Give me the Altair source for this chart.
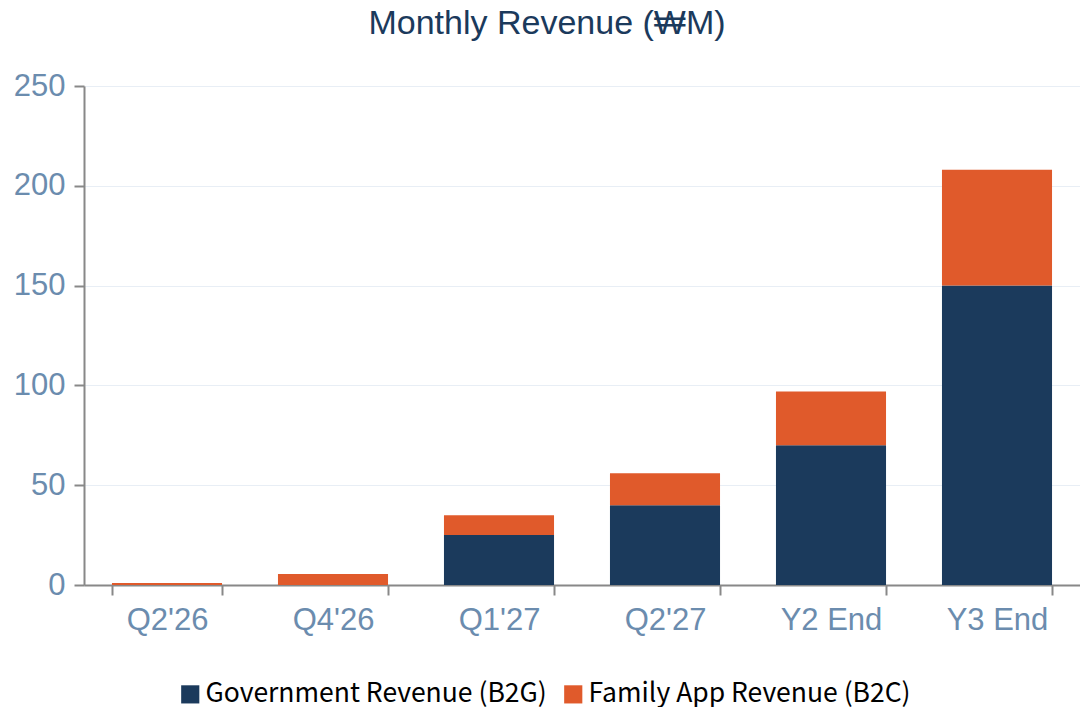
import altair as alt
import pandas as pd

periods = ["Q2'26", "Q4'26", "Q1'27", "Q2'27", "Y2 End", "Y3 End"]
b2g = [0, 0, 25, 40, 70, 150]
b2c = [1, 5.5, 10, 16, 27, 58]
series = ["Government Revenue (B2G)", "Family App Revenue (B2C)"]
colors = ["#1B3A5C", "#E05A2B"]

rows = []
for p, g, c in zip(periods, b2g, b2c):
    rows.append({"period": p, "series": series[0], "value": g, "order": 0})
    rows.append({"period": p, "series": series[1], "value": c, "order": 1})
df = pd.DataFrame(rows)

chart = alt.Chart(df).mark_bar().encode(
    x=alt.X("period:N", sort=periods, title=None,
            scale=alt.Scale(paddingInner=0.337, paddingOuter=0.1685),
            axis=alt.Axis(labelAngle=0, tickBand="extent", labelPadding=10,
                          tickSize=10, domainColor="#888888", tickColor="#888888",
                          domainWidth=2, tickWidth=2,
                          labelFont="Liberation Sans", labelFontSize=31,
                          labelColor="#6B8CAE", grid=False)),
    y=alt.Y("value:Q", stack="zero", title=None,
            scale=alt.Scale(domain=[0, 250]),
            axis=alt.Axis(values=[0, 50, 100, 150, 200, 250], tickSize=10,
                          domainColor="#888888", tickColor="#888888",
                          domainWidth=2, tickWidth=2, labelPadding=9,
                          labelFont="Liberation Sans", labelFontSize=31,
                          labelColor="#6B8CAE", gridColor="#E8EEF5")),
    color=alt.Color("series:N", sort=series,
                    scale=alt.Scale(domain=series, range=colors),
                    legend=alt.Legend(title=None, orient="none", direction="horizontal",
                                      legendX=93, legendY=595, symbolType="square",
                                      symbolSize=330, symbolOpacity=1, symbolStrokeWidth=0,
                                      labelFont="Noto Sans CJK KR", labelFontSize=26.5,
                                      labelLimit=500,
                                      labelColor="#000000", columnPadding=13,
                                      labelOffset=2)),
    order=alt.Order("order:Q", sort="ascending"),
).properties(
    width=996, height=499,
    title=alt.TitleParams("Monthly Revenue (₩M)", font="Liberation Sans",
                          fontSize=34, fontWeight="normal", color="#1B3A5C",
                          anchor="middle", dx=-35, offset=29),
    autosize=alt.AutoSizeParams(type="none"),
    padding={"left": 84, "top": 86, "right": 0, "bottom": 122},
).configure_view(stroke=None)

chart.save("out.html", embed_options={"renderer": "svg", "actions": False})
